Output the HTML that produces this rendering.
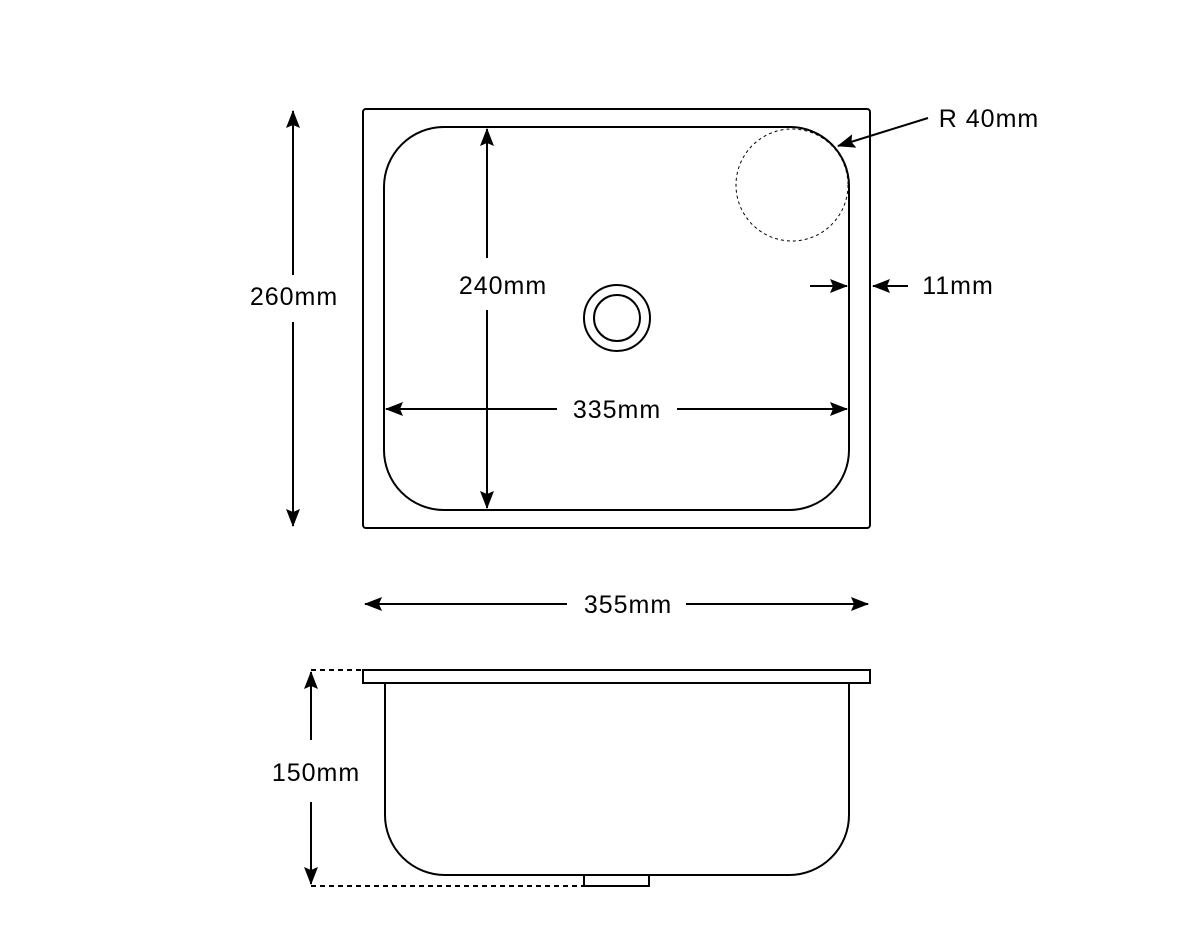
<!DOCTYPE html>
<html><head><meta charset="utf-8"><style>html,body{margin:0;background:#fff}svg{display:block}</style></head><body>
<svg width="1200" height="950" viewBox="0 0 1200 950" xmlns="http://www.w3.org/2000/svg">
<defs>
<marker id="b" markerWidth="18" markerHeight="14" refX="17" refY="7" orient="auto-start-reverse" markerUnits="userSpaceOnUse" viewBox="0 0 18 14"><path d="M0,0 L18,7 L0,14 L3,7 Z" fill="#000"/></marker></defs>
<g fill="none" stroke="#000" stroke-width="2">
<rect x="363" y="109" width="507" height="419" rx="3"/>
<path d="M444,127 H790 A59,59 0 0 1 849,186 V450 A60,60 0 0 1 789,510 H444 A60,60 0 0 1 384,450 V187 A60,60 0 0 1 444,127 Z"/>
<circle cx="617" cy="318" r="33"/><circle cx="617" cy="318" r="23"/>
<circle cx="792" cy="185" r="56" stroke-width="1" stroke-dasharray="3,3"/>
<line x1="293" y1="111" x2="293" y2="275" marker-start="url(#b)"/><line x1="293" y1="322" x2="293" y2="526" marker-end="url(#b)"/>
<line x1="487" y1="129" x2="487" y2="258" marker-start="url(#b)"/><line x1="487" y1="310" x2="487" y2="508" marker-end="url(#b)"/>
<line x1="386" y1="409" x2="557" y2="409" marker-start="url(#b)"/><line x1="677" y1="409" x2="847" y2="409" marker-end="url(#b)"/>
<line x1="810" y1="286" x2="847" y2="286" marker-end="url(#b)"/><line x1="908" y1="286" x2="873" y2="286" marker-end="url(#b)"/>
<line x1="928" y1="118" x2="838" y2="146" marker-end="url(#b)"/>
<line x1="365" y1="604" x2="567" y2="604" marker-start="url(#b)"/><line x1="686" y1="604" x2="868" y2="604" marker-end="url(#b)"/>
<rect x="363" y="670" width="507" height="13"/>
<path d="M385,683 V815 A60,60 0 0 0 445,875 H789 A60,60 0 0 0 849,815 V683"/>
<rect x="584" y="875" width="65" height="11"/>
<line x1="311" y1="670" x2="363" y2="670" stroke-dasharray="5,4"/><line x1="311" y1="886" x2="584" y2="886" stroke-dasharray="5,4"/>
<line x1="311" y1="672" x2="311" y2="740" marker-start="url(#b)"/><line x1="311" y1="802" x2="311" y2="884" marker-end="url(#b)"/>
</g>
<g font-family="Liberation Sans, sans-serif" font-size="25" letter-spacing="1" fill="#000" text-anchor="middle">
<text x="294" y="305">260mm</text>
<text x="503" y="294">240mm</text>
<text x="617" y="418">335mm</text>
<text x="958" y="294">11mm</text>
<text x="989" y="127">R 40mm</text>
<text x="628" y="613">355mm</text>
<text x="316" y="781">150mm</text>
</g>
</svg>
</body></html>
